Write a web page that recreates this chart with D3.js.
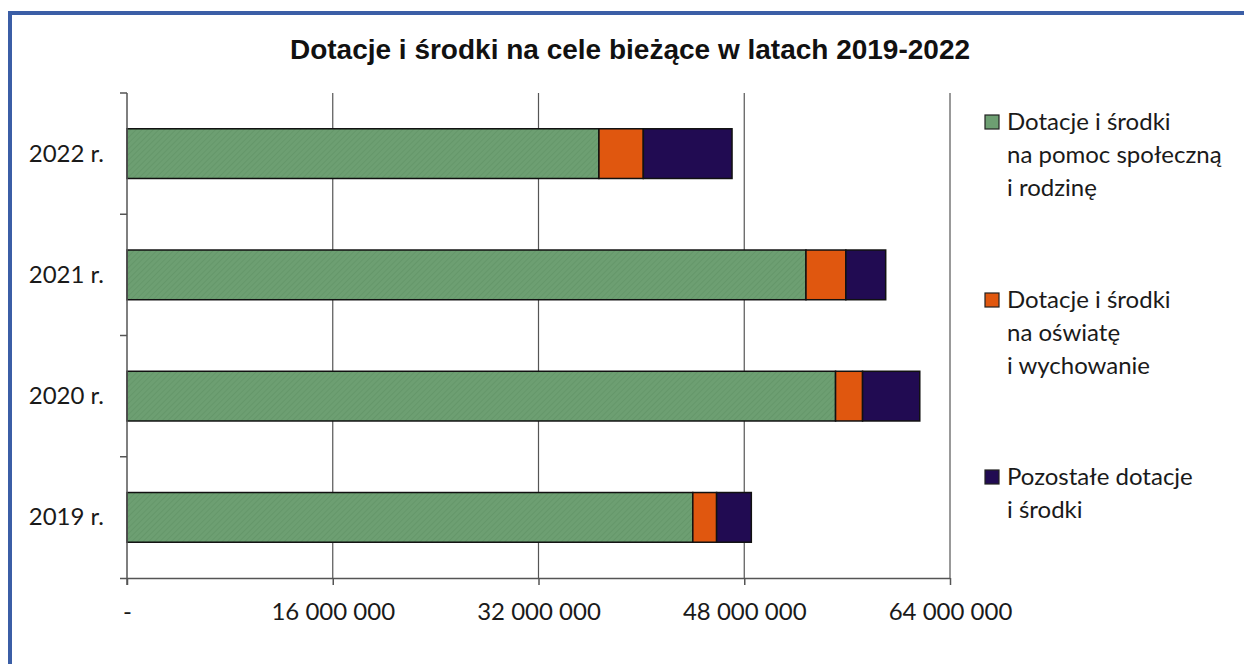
<!DOCTYPE html>
<html>
<head>
<meta charset="utf-8">
<script src="https://cdn.jsdelivr.net/npm/d3@7"></script>
<style>
  html, body { margin: 0; padding: 0; background: #fff; }
  svg { display: block; }
  .title { font-family: "Liberation Sans", Arial, sans-serif; font-weight: bold; font-size: 28px; fill: #111; }
  .lbl { font-family: Lato, "Open Sans", sans-serif; font-size: 24px; fill: #1a1a1a; }
</style>
</head>
<body>
<div id="chart"></div>
<script>
// data
var years = ["2022 r.", "2021 r.", "2020 r.", "2019 r."];
var pomocSpoleczna = [36700000, 52800000, 55100000, 44000000];
var oswiata = [3450000, 3100000, 2100000, 1850000];
var pozostale = [6900000, 3100000, 4450000, 2700000];
var seriesNames = [
  ["Dotacje i środki", "na pomoc społeczną", "i rodzinę"],
  ["Dotacje i środki", "na oświatę", "i wychowanie"],
  ["Pozostałe dotacje", "i środki"]
];
var seriesColors = ["#6d9f72", "#e0570f", "#210b52"];
var xTicks = [0, 16000000, 32000000, 48000000, 64000000];

var W = 1244, H = 664;
var margin = { top: 93, right: 294, bottom: 86, left: 127 },
  width = W - margin.left - margin.right,
  height = H - margin.top - margin.bottom;

var svg = d3.select("#chart").append("svg")
  .attr("width", W)
  .attr("height", H);

// blue frame (only top and left edges visible)
svg.append("rect")
  .attr("x", 10).attr("y", 13)
  .attr("width", W + 20).attr("height", H + 20)
  .attr("fill", "none")
  .attr("stroke", "#3b5ea6")
  .attr("stroke-width", 4);

svg.append("text")
  .attr("class", "title")
  .attr("x", 630).attr("y", 59)
  .attr("text-anchor", "middle")
  .text("Dotacje i środki na cele bieżące w latach 2019-2022");

// hatch pattern for the green series
var defs = svg.append("defs");
var pat = defs.append("pattern")
  .attr("id", "hatch")
  .attr("patternUnits", "userSpaceOnUse")
  .attr("width", 4).attr("height", 4)
  .attr("patternTransform", "rotate(45)");
pat.append("rect").attr("width", 4).attr("height", 4).attr("fill", seriesColors[0]);
pat.append("line").attr("x1", 0).attr("y1", 0).attr("x2", 0).attr("y2", 4)
  .attr("stroke", "#5f9164").attr("stroke-width", 1.2);

var g = svg.append("g")
  .attr("transform", "translate(" + margin.left + "," + margin.top + ")");

var x = d3.scaleLinear().domain([0, 64000000]).range([0, width]);
var y = d3.scaleBand().domain(years).range([0, height])
  .paddingInner(0.59).paddingOuter(0.295);

var fmt = function (d) {
  return d === 0 ? "-" : d3.format(",")(d).replace(/,/g, " ");
};

// gridlines
g.selectAll(".grid")
  .data(xTicks.slice(1))
  .enter().append("line")
  .attr("x1", function (d) { return x(d); })
  .attr("x2", function (d) { return x(d); })
  .attr("y1", 0).attr("y2", height)
  .attr("stroke", "#555").attr("stroke-width", 1.2);

// stacked data
var rows = years.map(function (yr, i) {
  return { year: yr, a: pomocSpoleczna[i], b: oswiata[i], c: pozostale[i] };
});
var stack = d3.stack().keys(["a", "b", "c"])(rows);

var layers = g.selectAll(".layer")
  .data(stack)
  .enter().append("g")
  .attr("fill", function (d, i) { return i === 0 ? "url(#hatch)" : seriesColors[i]; });

layers.selectAll("rect")
  .data(function (d) { return d; })
  .enter().append("rect")
  .attr("x", function (d) { return x(d[0]); })
  .attr("width", function (d) { return x(d[1]) - x(d[0]); })
  .attr("y", function (d) { return y(d.data.year); })
  .attr("height", y.bandwidth())
  .attr("stroke", "#111")
  .attr("stroke-width", 1.5);

// axes
var xAxis = d3.axisBottom(x).tickValues(xTicks).tickSize(7).tickSizeOuter(0).tickFormat(fmt);
var gx = g.append("g")
  .attr("transform", "translate(0," + height + ")")
  .call(xAxis);
gx.select(".domain").attr("stroke", "#555").attr("stroke-width", 1.5)
  .attr("d", "M-7,0.5H" + width);
gx.selectAll(".tick line").attr("stroke", "#555").attr("stroke-width", 1.5);
gx.selectAll("text").attr("class", "lbl").attr("dy", 0).attr("y", 42);
gx.attr("font-size", null).attr("font-family", null);

// y axis line with tick marks at band boundaries
var stepH = height / years.length;
g.append("line")
  .attr("x1", 0).attr("x2", 0).attr("y1", 0).attr("y2", height + 7)
  .attr("stroke", "#555").attr("stroke-width", 1.5);
g.selectAll(".ytick")
  .data(d3.range(years.length))
  .enter().append("line")
  .attr("x1", -7).attr("x2", 0)
  .attr("y1", function (d) { return d * stepH; })
  .attr("y2", function (d) { return d * stepH; })
  .attr("stroke", "#555").attr("stroke-width", 1.5);

g.selectAll(".ylabel")
  .data(years)
  .enter().append("text")
  .attr("class", "lbl")
  .attr("x", -23)
  .attr("y", function (d) { return y(d) + y.bandwidth() / 2 + 8; })
  .attr("text-anchor", "end")
  .text(function (d) { return d; });

// legend
var legendY = [122, 300, 477];
var lineH = 33;
var lg = svg.append("g");
seriesNames.forEach(function (lines, i) {
  lg.append("rect")
    .attr("x", 985).attr("y", legendY[i] - 7)
    .attr("width", 14).attr("height", 14)
    .attr("fill", seriesColors[i])
    .attr("stroke", "#222").attr("stroke-width", 1.2);
  lines.forEach(function (t, j) {
    lg.append("text")
      .attr("class", "lbl")
      .attr("x", 1007)
      .attr("y", legendY[i] + j * lineH + 8)
      .text(t);
  });
});
</script>
</body>
</html>
